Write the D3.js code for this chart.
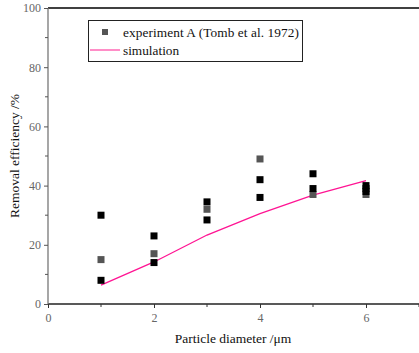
<!DOCTYPE html>
<html>
<head>
<meta charset="utf-8">
<script src="https://cdn.jsdelivr.net/npm/d3@7"></script>
<style>
  body { margin: 0; background: #fff; }
  text { font-family: "Liberation Serif", "Times New Roman", serif; }
</style>
</head>
<body>
<script>
// experiment points, black ones and gray ones
var blackX = [1, 1, 2, 2, 3, 3, 4, 4, 5, 5, 6, 6, 6];
var blackY = [30, 8, 23, 14, 34.5, 28.4, 42, 36, 44, 39, 40, 39, 38];
var grayX = [1, 2, 3, 4, 5, 6];
var grayY = [15, 17, 32, 49, 37, 37];

// simulation line
var simX = [1, 2, 3, 4, 5, 6];
var simY = [6.4, 14.2, 23.3, 30.5, 36.8, 41.7];

var xTicks = [0, 2, 4, 6];
var xMinor = [1, 3, 5, 7];
var yTicks = [0, 20, 40, 60, 80, 100];
var yMinor = [10, 30, 50, 70, 90];

var W = 419, H = 353;
var margin = {top: 8, right: 0, bottom: 49, left: 48};

var svg = d3.select("body").append("svg")
    .attr("width", W)
    .attr("height", H);

var x = d3.scaleLinear().domain([0, 7]).range([margin.left, W - margin.right]);
var y = d3.scaleLinear().domain([0, 100]).range([H - margin.bottom, margin.top]);

// top frame line
svg.append("line")
  .attr("x1", x(0)).attr("x2", W)
  .attr("y1", y(100)).attr("y2", y(100))
  .attr("stroke", "#000").attr("stroke-width", 1.3);

// x axis
var xAxis = svg.append("g")
  .attr("transform", "translate(0," + y(0) + ")")
  .call(d3.axisBottom(x).tickValues(xTicks).tickSize(4).tickPadding(5).tickFormat(d3.format("d")));
xAxis.append("g").selectAll("line")
  .data(xMinor).enter().append("line")
  .attr("x1", function(d) { return x(d); })
  .attr("x2", function(d) { return x(d); })
  .attr("y1", 0).attr("y2", 3)
  .attr("stroke", "#333");
xAxis.select(".domain").attr("d", "M" + x(0) + ",0H" + W).attr("stroke", "#222").attr("stroke-width", 1.3);
xAxis.selectAll(".tick line").attr("stroke", "#333");
xAxis.selectAll(".tick text").attr("fill", "#666").attr("font-size", "12px");

// y axis
var yAxis = svg.append("g")
  .attr("transform", "translate(" + x(0) + ",0)")
  .call(d3.axisLeft(y).tickValues(yTicks).tickSize(4).tickPadding(3).tickFormat(d3.format("d")));
yAxis.append("g").selectAll("line")
  .data(yMinor).enter().append("line")
  .attr("y1", function(d) { return y(d); })
  .attr("y2", function(d) { return y(d); })
  .attr("x1", 0).attr("x2", -3)
  .attr("stroke", "#555");
yAxis.select(".domain").attr("d", "M0," + y(0) + "V" + y(100)).attr("stroke", "#777").attr("stroke-width", 1.3);
yAxis.selectAll(".tick line").attr("stroke", "#555");
yAxis.selectAll(".tick text").attr("fill", "#666").attr("font-size", "12px");

// axis titles
svg.append("text")
  .attr("x", 233).attr("y", 343)
  .attr("text-anchor", "middle")
  .attr("font-size", "13.5px")
  .attr("fill", "#111")
  .text("Particle diameter /\u03bcm");

svg.append("text")
  .attr("transform", "translate(19," + y(50) + ") rotate(-90)")
  .attr("text-anchor", "middle")
  .attr("font-size", "13.5px")
  .attr("fill", "#111")
  .text("Removal efficiency /%");

// simulation line
var line = d3.line()
  .x(function(d) { return x(d[0]); })
  .y(function(d) { return y(d[1]); });

svg.append("path")
  .datum(simX.map(function(d, i) { return [d, simY[i]]; }))
  .attr("d", line)
  .attr("fill", "none")
  .attr("stroke", "#ff1493")
  .attr("stroke-width", 1.3);

// markers
var ms = 7;
svg.selectAll("rect.gray")
  .data(grayX.map(function(d, i) { return [d, grayY[i]]; }))
  .enter().append("rect")
  .attr("class", "gray")
  .attr("x", function(d) { return x(d[0]) - ms / 2; })
  .attr("y", function(d) { return y(d[1]) - ms / 2; })
  .attr("width", ms).attr("height", ms)
  .attr("fill", "#555");

svg.selectAll("rect.black")
  .data(blackX.map(function(d, i) { return [d, blackY[i]]; }))
  .enter().append("rect")
  .attr("class", "black")
  .attr("x", function(d) { return x(d[0]) - ms / 2; })
  .attr("y", function(d) { return y(d[1]) - ms / 2; })
  .attr("width", ms).attr("height", ms)
  .attr("fill", "#000");

// legend
var lg = svg.append("g");
lg.append("rect")
  .attr("x", 88.5).attr("y", 20.5)
  .attr("width", 214).attr("height", 41)
  .attr("fill", "#fff").attr("stroke", "#222").attr("stroke-width", 1);
lg.append("rect")
  .attr("x", 102).attr("y", 29).attr("width", 6).attr("height", 6)
  .attr("fill", "#555");
lg.append("line")
  .attr("x1", 90).attr("x2", 120).attr("y1", 50).attr("y2", 50)
  .attr("stroke", "#ff69b4").attr("stroke-width", 1.5);
lg.append("text").attr("x", 123).attr("y", 37)
  .attr("font-size", "13.3px").attr("fill", "#111")
  .attr("textLength", 176)
  .text("experiment A (Tomb et al. 1972)");
lg.append("text").attr("x", 123).attr("y", 55)
  .attr("font-size", "13.3px").attr("fill", "#111")
  .text("simulation");
</script>
</body>
</html>
